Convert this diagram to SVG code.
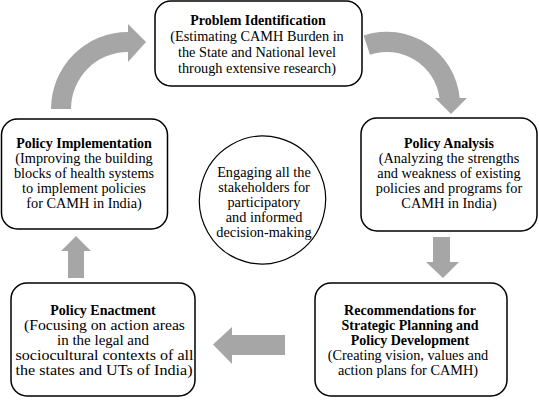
<svg xmlns="http://www.w3.org/2000/svg" width="539" height="400" viewBox="0 0 539 400">
<style>
.box{fill:#fff;stroke:#000;stroke-width:1.5}
.arr{fill:#a6a6a6;stroke:none}
text{font-family:"Liberation Serif","Times New Roman",serif;fill:#000;text-anchor:middle}
.b{font-weight:bold;font-size:14px}
.t{font-size:14.3px}
</style>
<rect width="539" height="400" fill="#fff"/>
<g id="connectors">
<path class="arr" d="M51 109 A77 77 0 0 1 128 32 L128 24 L146 42 L128 62 L128 52 A57 57 0 0 0 71 109 Z"/>
<path class="arr" d="M363.6 35.6 A73 73 0 0 1 459.7 98 L467 98 L451 114 L435 98 L439.5 98 A53 53 0 0 0 370 54.7 Z"/>
<polygon class="arr" points="433,237 450,237 450,262 459,262 443,278 426,262 433,262"/>
<polygon class="arr" points="285,335 285,355 232,355 232,364 213,344.5 232,327 232,335"/>
<polygon class="arr" points="68,278 84,278 84,251 91,251 76,236 61,251 68,251"/>
</g>
<g id="problem-identification">
<rect class="box" x="155" y="1" width="207" height="85" rx="16"/>
<text class="b" x="258" y="24.5">Problem Identification</text>
<text class="t" x="257" y="40.5" font-size="14.6">(Estimating CAMH Burden in</text>
<text class="t" x="257" y="56.5" font-size="14.6">the State and National level</text>
<text class="t" x="257" y="72.5" font-size="14.6">through extensive research)</text>
</g>
<g id="policy-analysis">
<rect class="box" x="361" y="118" width="176" height="113" rx="16"/>
<text class="b" x="449" y="148">Policy Analysis</text>
<text class="t" x="449" y="163">(Analyzing the strengths</text>
<text class="t" x="449" y="178">and weakness of existing</text>
<text class="t" x="449" y="193">policies and programs for</text>
<text class="t" x="449" y="208">CAMH in India)</text>
</g>
<g id="recommendations">
<rect class="box" x="315" y="283" width="192" height="113" rx="16"/>
<text class="b" x="410" y="315">Recommendations for</text>
<text class="b" x="410" y="330">Strategic Planning and</text>
<text class="b" x="410" y="345">Policy Development</text>
<text class="t" x="408" y="360" font-size="14.6">(Creating vision, values and</text>
<text class="t" x="408" y="375" font-size="14.6">action plans for CAMH)</text>
</g>
<g id="policy-enactment">
<rect class="box" x="11" y="283" width="184" height="113" rx="16"/>
<text class="b" x="103" y="315">Policy Enactment</text>
<text class="t" x="104.5" y="330" font-size="15.6" textLength="161" lengthAdjust="spacingAndGlyphs">(Focusing on action areas</text>
<text class="t" x="103" y="345" font-size="15.6" textLength="92" lengthAdjust="spacingAndGlyphs">in the legal and</text>
<text class="t" x="104.5" y="360" font-size="15.6" textLength="178" lengthAdjust="spacingAndGlyphs">sociocultural contexts of all</text>
<text class="t" x="104" y="375" font-size="15.6" textLength="177" lengthAdjust="spacingAndGlyphs">the states and UTs of India)</text>
</g>
<g id="policy-implementation">
<rect class="box" x="1.5" y="119" width="166" height="110" rx="16"/>
<text class="b" x="84" y="148">Policy Implementation</text>
<text class="t" x="84" y="163">(Improving the building</text>
<text class="t" x="84" y="178">blocks of health systems</text>
<text class="t" x="84" y="193">to implement policies</text>
<text class="t" x="84" y="208">for CAMH in India)</text>
</g>
<g id="stakeholders">
<ellipse cx="262.5" cy="200" rx="63" ry="64" transform="rotate(15 262.5 200)" fill="#fff" stroke="#000" stroke-width="1.2"/>
<text class="t" x="264" y="177" font-size="14">Engaging all the</text>
<text class="t" x="264" y="192" font-size="14">stakeholders for</text>
<text class="t" x="264" y="207" font-size="14">participatory</text>
<text class="t" x="264" y="222" font-size="14">and informed</text>
<text class="t" x="264" y="237" font-size="14">decision-making</text>
</g>
</svg>
